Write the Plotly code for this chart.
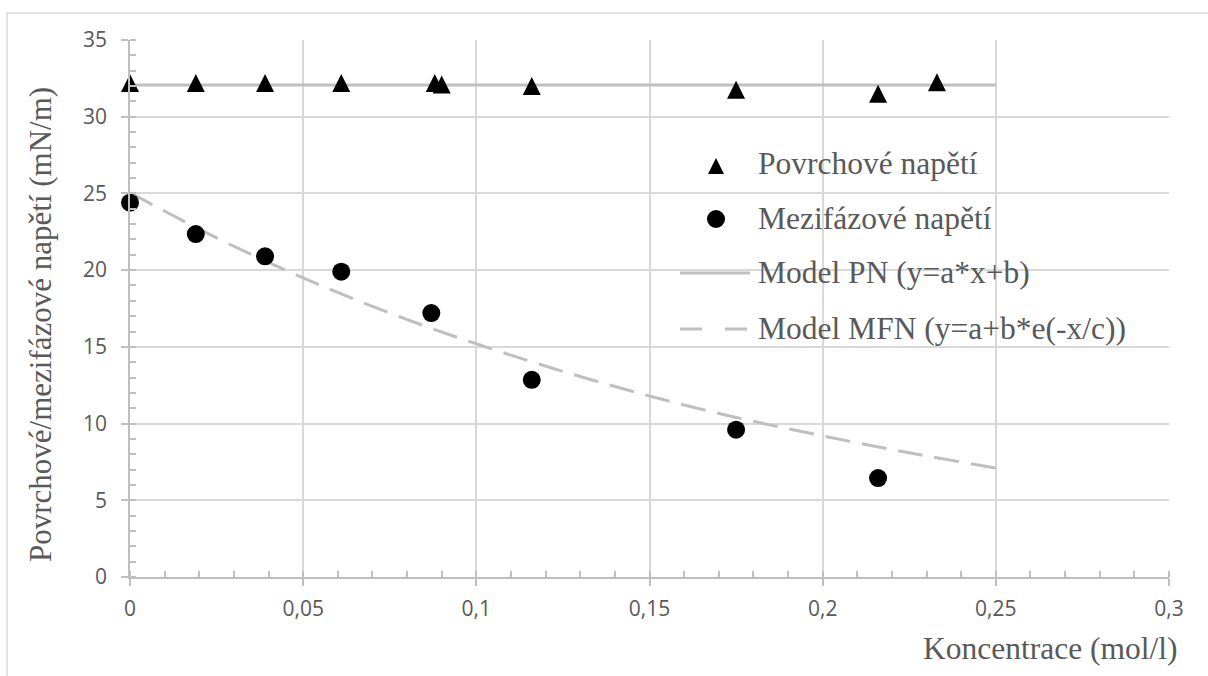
import plotly.graph_objects as go

# ---------------- data ----------------
pn_x = [0.0, 0.019, 0.039, 0.061, 0.088, 0.090, 0.116, 0.175, 0.216, 0.233]
pn_y = [32.2, 32.2, 32.2, 32.2, 32.2, 32.1, 32.0, 31.75, 31.5, 32.25]

mfn_x = [0.0, 0.019, 0.039, 0.061, 0.087, 0.116, 0.175, 0.216]
mfn_y = [24.4, 22.35, 20.9, 19.9, 17.2, 12.85, 9.6, 6.45]

model_pn_x = [0.0, 0.25]
model_pn_y = [32.07, 32.07]

model_mfn_x = [0.0, 0.025, 0.05, 0.075, 0.1, 0.125, 0.15, 0.175, 0.2, 0.225, 0.25]
model_mfn_y = [25.05, 22.1, 19.5, 17.2, 15.2, 13.4, 11.8, 10.4, 9.2, 8.1, 7.1]

x_tickvals = [0, 0.05, 0.1, 0.15, 0.2, 0.25, 0.3]
x_ticktext = ["0", "0,05", "0,1", "0,15", "0,2", "0,25", "0,3"]
y_tickvals = [0, 5, 10, 15, 20, 25, 30, 35]
y_ticktext = ["0", "5", "10", "15", "20", "25", "30", "35"]

legend_names = ["Povrchové napětí", "Mezifázové napětí",
                "Model PN (y=a*x+b)", "Model MFN (y=a+b*e(-x/c))"]

x_title = "Koncentrace (mol/l)"
y_title = "Povrchové/mezifázové napětí (mN/m)"

# ---------------- layout geometry (pixels) ----------------
W, H = 1208, 676
L, R, T, B = 130, 1169, 40, 577
PW, PH = R - L, B - T
Y_MIN, Y_MAX = 0, 35

TRI_SIZE = 18
# 'arrow-up' markers hang below their tip: lift the axis by half the marker
# height so that each triangle is centred on its value
tri_shift = (TRI_SIZE / 2) * (Y_MAX - Y_MIN) / PH


def px(x):
    return (x - L) / PW


def py(y):
    return (B - y) / PH


GRID = "#D9D9D9"
AXIS = "#BFBFBF"
TEXT = "#595959"
SERIF = "Liberation Serif, Times New Roman, serif"
SANS = "Open Sans, Noto Sans, sans-serif"

fig = go.Figure()

fig.add_trace(go.Scatter(
    x=model_pn_x, y=model_pn_y, mode="lines",
    line=dict(color=AXIS, width=3), showlegend=False, hoverinfo="skip"))
fig.add_trace(go.Scatter(
    x=model_mfn_x, y=model_mfn_y, mode="lines", line_shape="spline",
    line=dict(color=AXIS, width=3, dash="25px,12px"), showlegend=False,
    hoverinfo="skip"))
fig.add_trace(go.Scatter(
    x=pn_x, y=pn_y, mode="markers", yaxis="y3",
    marker=dict(symbol="arrow-up", size=TRI_SIZE, color="black",
                line=dict(width=0)),
    showlegend=False, cliponaxis=False))
fig.add_trace(go.Scatter(
    x=mfn_x, y=mfn_y, mode="markers",
    marker=dict(symbol="circle", size=18, color="black"),
    showlegend=False, cliponaxis=False))

# legend key markers on a pixel-space overlay axis
fig.add_trace(go.Scatter(
    x=[716], y=[158], mode="markers", xaxis="x2", yaxis="y2",
    marker=dict(symbol="arrow-up", size=16, color="black",
                line=dict(width=0)),
    showlegend=False, hoverinfo="skip"))
fig.add_trace(go.Scatter(
    x=[716], y=[219], mode="markers", xaxis="x2", yaxis="y2",
    marker=dict(symbol="circle", size=18, color="black"),
    showlegend=False, hoverinfo="skip"))

shapes = [
    # outer chart border (left + top visible)
    dict(type="rect", xref="paper", yref="paper",
         x0=px(7), x1=px(1260), y0=py(720), y1=py(13),
         line=dict(color=GRID, width=1.5), layer="below"),
    # legend line keys
    dict(type="line", xref="paper", yref="paper",
         x0=px(680), x1=px(750), y0=py(273), y1=py(273),
         line=dict(color=AXIS, width=3)),
    dict(type="line", xref="paper", yref="paper",
         x0=px(680), x1=px(750), y0=py(329), y1=py(329),
         line=dict(color=AXIS, width=3, dash="22px,23px")),
]

annotations = []
for name, yy in zip(legend_names, [163, 218, 272, 328]):
    annotations.append(dict(
        text=name, xref="paper", yref="paper", x=px(756), y=py(yy),
        xanchor="left", yanchor="middle", showarrow=False,
        font=dict(family=SERIF, size=31.5, color=TEXT)))
annotations.append(dict(
    text=x_title, xref="paper", yref="paper", x=px(1180), y=py(648),
    xanchor="right", yanchor="middle", showarrow=False,
    font=dict(family=SERIF, size=31.5, color=TEXT)))
annotations.append(dict(
    text=y_title, xref="paper", yref="paper", x=px(40), y=py(325),
    xanchor="center", yanchor="middle", showarrow=False, textangle=-90,
    font=dict(family=SERIF, size=31, color=TEXT)))

fig.update_layout(
    width=W, height=H,
    margin=dict(l=L, r=W - R, t=T, b=H - B, pad=0),
    paper_bgcolor="white", plot_bgcolor="white",
    showlegend=False,
    shapes=shapes, annotations=annotations,
    xaxis=dict(
        range=[0, 0.3], tickvals=x_tickvals, ticktext=x_ticktext,
        showgrid=True, gridcolor=GRID, gridwidth=1.5,
        showline=True, linecolor=AXIS, linewidth=1.5,
        ticks="outside", ticklen=7, tickcolor=AXIS, tickwidth=1.5,
        ticklabelstandoff=5,
        minor=dict(dtick=0.01, tick0=0, ticks="inside", ticklen=6,
                   tickcolor=AXIS, tickwidth=1.5, showgrid=False),
        tickfont=dict(family=SANS, size=21, color=TEXT),
        zeroline=False, fixedrange=True),
    yaxis=dict(
        range=[Y_MIN, Y_MAX], tickvals=y_tickvals, ticktext=y_ticktext,
        showgrid=True, gridcolor=GRID, gridwidth=1.5,
        showline=True, linecolor=AXIS, linewidth=1.5,
        ticks="outside", ticklen=7, tickcolor=AXIS, tickwidth=1.5,
        ticklabelstandoff=10,
        minor=dict(dtick=1, tick0=0, ticks="inside", ticklen=6,
                   tickcolor=AXIS, tickwidth=1.5, showgrid=False),
        tickfont=dict(family=SANS, size=21, color=TEXT),
        zeroline=False, fixedrange=True),
    yaxis3=dict(range=[Y_MIN - tri_shift, Y_MAX - tri_shift],
                overlaying="y", visible=False, fixedrange=True),
    xaxis2=dict(range=[L, R], overlaying="x", visible=False,
                fixedrange=True),
    yaxis2=dict(range=[B, T], overlaying="y", visible=False,
                fixedrange=True),
)

fig.write_html("out.html", include_plotlyjs=True)
